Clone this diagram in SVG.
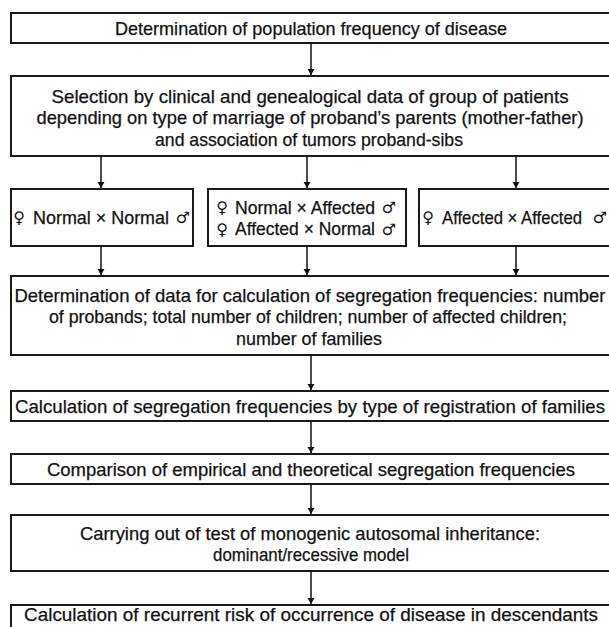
<svg xmlns="http://www.w3.org/2000/svg" width="609" height="627" viewBox="0 0 609 627">
<style>
.box{fill:#fff;stroke:#1a1a1a;stroke-width:2}
.t{font-family:"Liberation Sans",Arial,sans-serif;font-size:18.5px;fill:#111;stroke:#111;stroke-width:0.25;text-anchor:middle}
.s{font-family:"DejaVu Sans",sans-serif;font-size:16px;fill:#111;text-anchor:middle}
.c{stroke:#111;stroke-width:1.5;fill:none}
</style>
<defs>
<marker id="ah" viewBox="0 0 6 12" refX="6" refY="6" markerWidth="6" markerHeight="12" markerUnits="userSpaceOnUse" orient="auto">
<path d="M0,2.5 L6,6 L0,9.5 Z" fill="#111"/>
</marker>
</defs>
<rect width="609" height="627" fill="#fff"/>
<g id="connectors">
<line class="c" x1="311" y1="43" x2="311" y2="75" marker-end="url(#ah)"/>
<line class="c" x1="101" y1="156" x2="101" y2="188" marker-end="url(#ah)"/>
<line class="c" x1="307" y1="156" x2="307" y2="188" marker-end="url(#ah)"/>
<line class="c" x1="516" y1="156" x2="516" y2="188" marker-end="url(#ah)"/>
<line class="c" x1="101" y1="246" x2="101" y2="275" marker-end="url(#ah)"/>
<line class="c" x1="307" y1="246" x2="307" y2="275" marker-end="url(#ah)"/>
<line class="c" x1="516" y1="246" x2="516" y2="275" marker-end="url(#ah)"/>
<line class="c" x1="311" y1="355" x2="311" y2="390" marker-end="url(#ah)"/>
<line class="c" x1="311" y1="421" x2="311" y2="453" marker-end="url(#ah)"/>
<line class="c" x1="311" y1="484" x2="311" y2="514" marker-end="url(#ah)"/>
<line class="c" x1="311" y1="571" x2="311" y2="604" marker-end="url(#ah)"/>
</g>
<g id="n1">
<rect class="box" x="11" y="13" width="602" height="30"/>
<text class="t" x="311" y="34.5" textLength="392" lengthAdjust="spacingAndGlyphs">Determination of population frequency of disease</text>
</g>
<g id="n2">
<rect class="box" x="11" y="76" width="602" height="80"/>
<text class="t" x="310" y="102.5" textLength="517" lengthAdjust="spacingAndGlyphs">Selection by clinical and genealogical data of group of patients</text>
<text class="t" x="310" y="124" textLength="547" lengthAdjust="spacingAndGlyphs">depending on type of marriage of proband’s parents (mother-father)</text>
<text class="t" x="309" y="145.5" textLength="308" lengthAdjust="spacingAndGlyphs">and association of tumors proband-sibs</text>
</g>
<g id="n3">
<rect class="box" x="11" y="189" width="182" height="57"/>
<text class="s" x="19" y="223">♀</text>
<text class="t" x="101" y="223.5" textLength="136" lengthAdjust="spacingAndGlyphs">Normal × Normal</text>
<text class="s" x="183" y="223">♂</text>
</g>
<g id="n4">
<rect class="box" x="208" y="189" width="198" height="57"/>
<text class="s" x="222" y="213">♀</text>
<text class="t" x="305" y="213.5" textLength="140" lengthAdjust="spacingAndGlyphs">Normal × Affected</text>
<text class="s" x="389" y="213">♂</text>
<text class="s" x="222" y="234.5">♀</text>
<text class="t" x="305" y="235" textLength="140" lengthAdjust="spacingAndGlyphs">Affected × Normal</text>
<text class="s" x="389" y="234.5">♂</text>
</g>
<g id="n5">
<rect class="box" x="419" y="189" width="194" height="57"/>
<text class="s" x="428" y="223">♀</text>
<text class="t" x="512" y="223.5" textLength="140" lengthAdjust="spacingAndGlyphs">Affected × Affected</text>
<text class="s" x="600" y="223">♂</text>
</g>
<g id="n6">
<rect class="box" x="11" y="276" width="602" height="79"/>
<text class="t" x="310" y="301.5" textLength="591" lengthAdjust="spacingAndGlyphs">Determination of data for calculation of segregation frequencies: number</text>
<text class="t" x="308" y="322.5" textLength="518" lengthAdjust="spacingAndGlyphs">of probands; total number of children; number of affected children;</text>
<text class="t" x="309" y="344.5" textLength="146" lengthAdjust="spacingAndGlyphs">number of families</text>
</g>
<g id="n7">
<rect class="box" x="11" y="391" width="602" height="30"/>
<text class="t" x="310" y="412.5" textLength="590" lengthAdjust="spacingAndGlyphs">Calculation of segregation frequencies by type of registration of families</text>
</g>
<g id="n8">
<rect class="box" x="11" y="454" width="602" height="30"/>
<text class="t" x="311" y="475.5" textLength="528" lengthAdjust="spacingAndGlyphs">Comparison of empirical and theoretical segregation frequencies</text>
</g>
<g id="n9">
<rect class="box" x="11" y="515" width="602" height="56"/>
<text class="t" x="310" y="539.5" textLength="460" lengthAdjust="spacingAndGlyphs">Carrying out of test of monogenic autosomal inheritance:</text>
<text class="t" x="311" y="561" textLength="196" lengthAdjust="spacingAndGlyphs">dominant/recessive model</text>
</g>
<g id="n10">
<rect class="box" x="11" y="605" width="602" height="30"/>
<text class="t" x="311" y="620.5" textLength="574" lengthAdjust="spacingAndGlyphs">Calculation of recurrent risk of occurrence of disease in descendants</text>
</g>
</svg>
